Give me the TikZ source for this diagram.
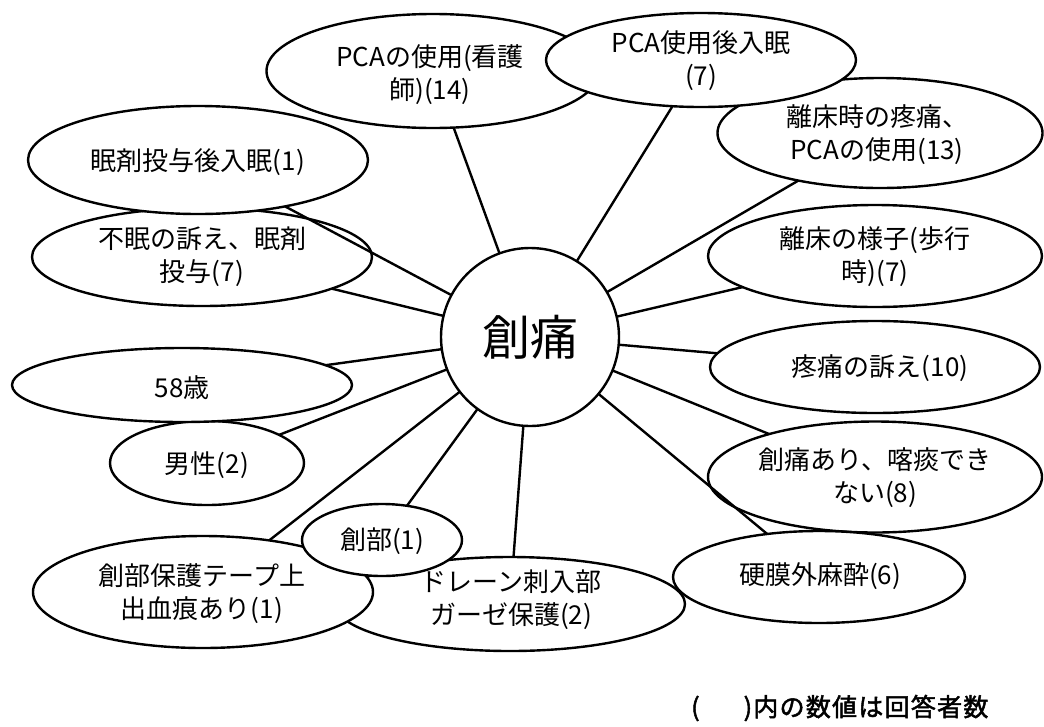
\documentclass[tikz,border=0pt]{standalone}
\usepackage{fontspec}
\setmainfont{Noto Sans CJK JP}
\newfontfamily\footfont[FakeBold=2,LetterSpace=5]{Noto Sans CJK JP}
\usetikzlibrary{shapes.geometric}
\begin{document}
\begin{tikzpicture}[x=1pt,y=-1pt,
  bub/.style={draw, ellipse, line width=2.4pt, fill=white, inner sep=0pt, outer sep=0pt},
  lbl/.style={align=center, inner sep=0pt, font=\fontsize{26}{33}\selectfont},
  hub/.style={draw, circle, line width=2.4pt, fill=white, inner sep=0pt, outer sep=0pt, minimum size=178pt, font=\fontsize{48}{50}\selectfont},
  link/.style={line width=2.4pt},
  foot/.style={anchor=west, inner sep=0pt, font=\footfont\fontsize{25}{28}\selectfont}]
\useasboundingbox (0,0) rectangle (1044,726);
% bubbles
\node[bub, minimum width=325pt, minimum height=110pt] (e3) at (880,133) {};
\node[bub, minimum width=333pt, minimum height=114pt] (e1) at (433,71) {};
\node[bub, minimum width=310pt, minimum height=94pt] (e2) at (701,60) {};
\node[bub, minimum width=334pt, minimum height=102pt] (e4) at (875,256) {};
\node[bub, minimum width=330pt, minimum height=92pt] (e5) at (875,367) {};
\node[bub, minimum width=334pt, minimum height=111pt] (e6) at (875,477) {};
\node[bub, minimum width=350pt, minimum height=94pt] (e8) at (510,604) {};
\node[bub, minimum width=292pt, minimum height=92pt] (e7) at (819,577) {};
\node[bub, minimum width=340pt, minimum height=112pt] (e10) at (203,592) {};
\node[bub, minimum width=160pt, minimum height=72pt] (e9) at (382,540) {};
\node[bub, minimum width=194pt, minimum height=84pt] (e11) at (207,463) {};
\node[bub, minimum width=340pt, minimum height=74pt] (e12) at (182,385) {};
\node[bub, minimum width=340pt, minimum height=98pt] (e13) at (202,257) {};
\node[bub, minimum width=340pt, minimum height=108pt] (e14) at (198,160) {};
\node[hub] (c) at (530,337) {創痛};
% connectors
\foreach \e in {e1,e2,e3,e4,e5,e6,e7,e8,e9,e10,e11,e12,e13,e14}
  \draw[link] (c) -- (\e);
% labels
\node[lbl] (t1) at (430,75) {PCAの使用(看護\\師)(14)};
\node[lbl] (t2) at (701,61) {PCA使用後入眠\\(7)};
\node[lbl] (t3) at (877,135) {離床時の疼痛、\\PCAの使用(13)};
\node[lbl] (t4) at (875,257) {離床の様子(歩行\\時)(7)};
\node[lbl] (t5) at (880,368) {疼痛の訴え(10)};
\node[lbl] (t6) at (875,478) {創痛あり、喀痰でき\\ない(8)};
\node[lbl] (t7) at (820,576) {硬膜外麻酔(6)};
\node[lbl] (t8) at (511,600) {ドレーン刺入部\\ガーゼ保護(2)};
\node[lbl] (t9) at (382,541) {創部(1)};
\node[lbl] (t10) at (202,594) {創部保護テープ上\\出血痕あり(1)};
\node[lbl] (t11) at (207,465) {男性(2)};
\node[lbl] (t12) at (182,388) {58歳};
\node[lbl] (t13) at (202,257) {不眠の訴え、眠剤\\投与(7)};
\node[lbl] (t14) at (198,162) {眠剤投与後入眠(1)};
% footnote
\node[foot] (note) at (691,708) {(\hspace{44pt})内の数値は回答者数};
\end{tikzpicture}
\end{document}
